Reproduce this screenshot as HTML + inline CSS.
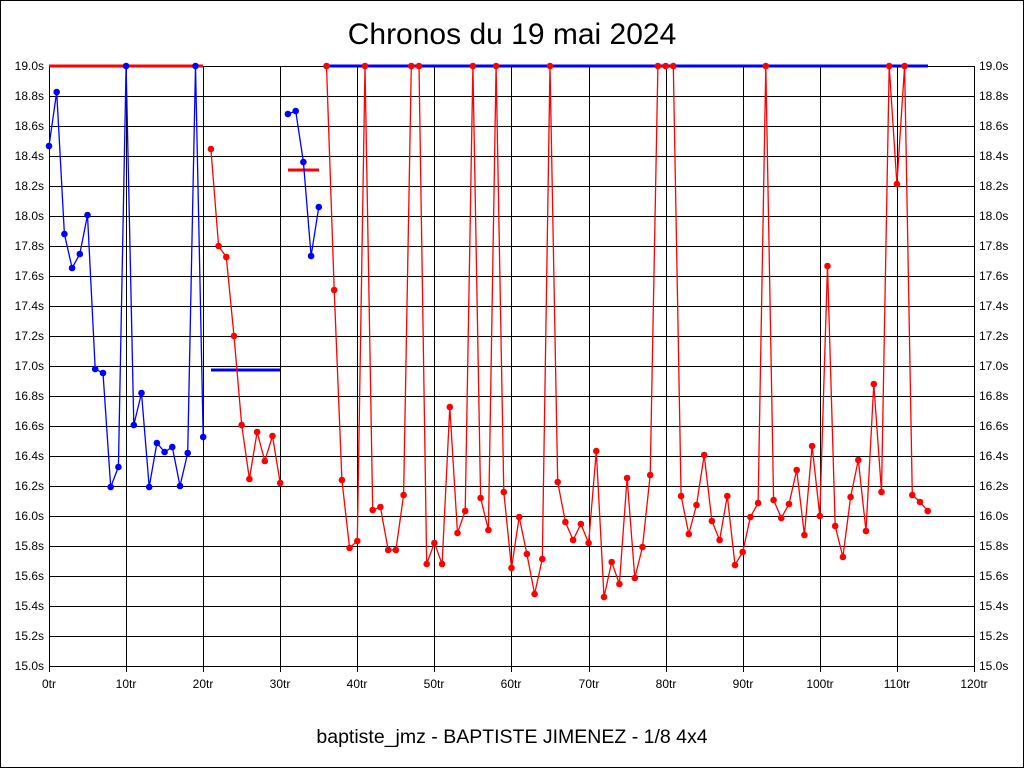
<!DOCTYPE html>
<html><head><meta charset="utf-8"><style>
html,body{margin:0;padding:0;background:#fff;}
svg{display:block;font-family:"Liberation Sans",sans-serif;}
</style></head><body>
<svg width="1024" height="768" viewBox="0 0 1024 768" xmlns="http://www.w3.org/2000/svg">
<rect x="0.5" y="0.5" width="1023" height="767" fill="#fff" stroke="#000"/>
<text x="512" y="44" font-size="30" text-anchor="middle">Chronos du 19 mai 2024</text>
<text x="512" y="743" font-size="19.5" text-anchor="middle">baptiste_jmz - BAPTISTE JIMENEZ - 1/8 4x4</text>
<g id="grid" stroke="#000" stroke-width="1"></g>
<g id="lab" font-size="12"></g>
<g id="data"></g>
<script>
var ns="http://www.w3.org/2000/svg";
function el(p,t,a,txt){var e=document.createElementNS(ns,t);for(var k in a)e.setAttribute(k,a[k]);if(txt!==undefined)e.textContent=txt;p.appendChild(e);return e;}
var g=document.getElementById('grid'),l=document.getElementById('lab'),d=document.getElementById('data');
for(var i=0;i<=20;i++){var y=66+i*30;el(g,'line',{x1:49,x2:974,y1:y+.5,y2:y+.5});
var v=(19-i*0.2).toFixed(1)+'s';el(l,'text',{x:44,y:y+4,'text-anchor':'end'},v);el(l,'text',{x:979,y:y+4},v);}
for(var i=0;i<=12;i++){var x=Math.round(49+i*77.08);el(g,'line',{x1:x+.5,x2:x+.5,y1:66,y2:672});
el(l,'text',{x:x,y:688,'text-anchor':'middle'},(i*10)+'tr');}
function X(i){return 49+7.708*i;}
function seg(pts,c){var s=pts.map(function(p){return X(p[0]).toFixed(1)+','+p[1]}).join(' ');
el(d,'polyline',{points:s,fill:'none',stroke:c,'stroke-width':1.3});
pts.forEach(function(p){el(d,'circle',{cx:X(p[0]).toFixed(1),cy:p[1],r:3.3,fill:c});});}
function hl(x1,x2,y,c){el(d,'line',{x1:x1,x2:x2,y1:y,y2:y,stroke:c,'stroke-width':3});}
hl(49,203,66,'#f00');hl(327,928,66,'#00f');hl(211,280,370,'#00f');hl(288,319,170,'#f00');
var b1=[146,92,234,268,254,215,369,373,487,467,66,425,393,487,443,452,447,486,453,66,437].map(function(y,i){return [i,y]});
var r2=[149,246,257,336,425,479,432,461,436,483].map(function(y,i){return [21+i,y]});
var b3=[114,111,162,256,207].map(function(y,i){return [31+i,y]});
var r4=[66,290,480,548,541,66,510,507,550,550,495,66,66,564,543,564,407,533,511,66,498,530,66,492,568,517,554,594,559,66,482,522,540,524,543,451,597,562,584,478,578,547,475,66,66,66,496,534,505,455,521,540,496,565,552,517,503,66,500,518,504,470,535,446,516,266,526,557,497,460,531,384,492,66,184,66,495,502,511].map(function(y,i){return [36+i,y]});
seg(b1,'#00f');seg(r2,'#f00');seg(b3,'#00f');seg(r4,'#f00');
</script>
</svg>
</body></html>
